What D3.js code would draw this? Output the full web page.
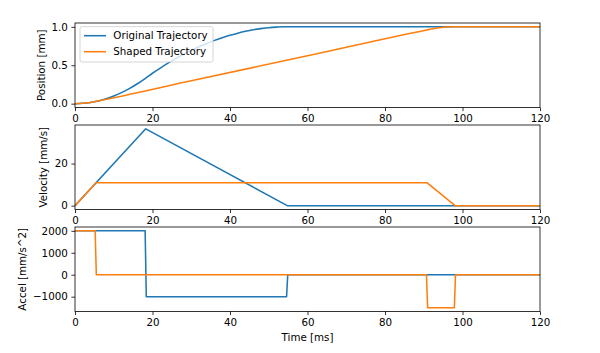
<!DOCTYPE html>
<html><head><meta charset="utf-8">
<script src="https://cdn.jsdelivr.net/npm/d3@7/dist/d3.min.js"></script>
<style>
body{margin:0;background:#fff}
text{font-family:"DejaVu Sans",sans-serif;fill:#000}
</style>
</head><body>
<svg id="chart" width="600" height="353"></svg>
<script>
// ---- data (time in ms) ----
const timeTicks = [0, 20, 40, 60, 80, 100, 120];
const seriesNames = ["Original Trajectory", "Shaped Trajectory"];
const seriesColors = ["#1f77b4", "#ff7f0e"];

const origPosition = [[0,0],[2,0.004],[4,0.016],[6,0.036],[8,0.064],[10,0.1],[12,0.144],[14,0.196],[16,0.256],[18,0.324],[20,0.396],[22,0.463],[24,0.527],[26,0.586],[28,0.642],[30,0.693],[32,0.741],[34,0.784],[36,0.824],[38,0.859],[40,0.891],[42,0.918],[44,0.942],[46,0.962],[48,0.977],[50,0.989],[52,0.996],[54,1.0],[55,1.0],[120,1.0]];
const shapedPosition = [[0,0],[2,0.004],[4,0.016],[5.45,0.030],[30,0.297],[60,0.624],[90.8,0.960],[92,0.972],[94,0.988],[96,0.997],[98.1,1.0],[120,1.0]];

const origVelocity = [[0,0],[18.26,36.5],[54.77,0],[120,0]];
const shapedVelocity = [[0,0],[5.45,10.9],[90.8,10.9],[98.1,0],[120,0]];

const origAccel = [[0,2000],[18.1,2000],[18.4,-1000],[54.6,-1000],[54.9,0],[120,0]];
const shapedAccel = [[0,2000],[5.2,2000],[5.5,0],[90.7,0],[91.0,-1500],[97.9,-1500],[98.2,0],[120,0]];

const posTicks = [0, 0.5, 1.0];
const posTickLabels = ["0.0", "0.5", "1.0"];
const velTicks = [0, 20];
const velTickLabels = ["0", "20"];
const accTicks = [-1000, 0, 1000, 2000];
const accTickLabels = ["\u22121000", "0", "1000", "2000"];

const panelDefs = [
  {label:"Position [mm]", series:[origPosition, shapedPosition], ticks:posTicks, tickLabels:posTickLabels, top:23, labelX:44.5, curve:d3.curveMonotoneX},
  {label:"Velocity [mm/s]", series:[origVelocity, shapedVelocity], ticks:velTicks, tickLabels:velTickLabels, top:125, labelX:47, curve:d3.curveLinear},
  {label:"Accel [mm/s^2]", series:[origAccel, shapedAccel], ticks:accTicks, tickLabels:accTickLabels, top:227, labelX:25.5, curve:d3.curveLinear}
];

// ---- layout ----
const left = 75, right = 540, ph = 84.5, fs = 10.3, tk = 3.6, lw = 1.55;
const svg = d3.select("#chart");
const x = d3.scaleLinear().domain([0, 120]).range([left, right]);

panelDefs.forEach((p, i) => {
  const all = p.series.flat().map(d => d[1]);
  const lo = d3.min(all), hi = d3.max(all), pad = (hi - lo) * 0.05;
  const y = d3.scaleLinear().domain([lo - pad, hi + pad]).range([p.top + ph, p.top]);
  const g = svg.append("g");
  const clipId = "clip" + i;
  g.append("clipPath").attr("id", clipId).append("rect")
    .attr("x", left).attr("y", p.top).attr("width", right - left).attr("height", ph);

  const line = d3.line().x(d => x(d[0])).y(d => y(d[1])).curve(p.curve);
  p.series.forEach((s, k) => {
    g.append("path").datum(s).attr("d", line)
      .attr("fill", "none").attr("stroke", seriesColors[k]).attr("stroke-width", lw)
      .attr("stroke-linejoin", "round").attr("clip-path", `url(#${clipId})`);
  });

  const xa = g.append("g").attr("transform", `translate(0,${p.top + ph})`)
    .call(d3.axisBottom(x).tickValues(timeTicks).tickFormat(d3.format("d")).tickSize(tk).tickSizeOuter(0).tickPadding(tk));
  const ya = g.append("g").attr("transform", `translate(${left},0)`)
    .call(d3.axisLeft(y).tickValues(p.ticks).tickFormat((d, j) => p.tickLabels[j]).tickSize(tk).tickSizeOuter(0).tickPadding(tk));
  [xa, ya].forEach(a => {
    a.select(".domain").remove();
    a.selectAll("line").attr("stroke", "#000").attr("stroke-width", 0.8);
    a.selectAll("text").attr("font-size", fs).attr("font-family", "DejaVu Sans").attr("fill", "#000");
  });

  g.append("rect").attr("x", left).attr("y", p.top).attr("width", right - left).attr("height", ph)
    .attr("fill", "none").attr("stroke", "#000").attr("stroke-width", 0.8);

  g.append("text").attr("transform", `translate(${p.labelX},${p.top + ph / 2}) rotate(-90)`)
    .attr("text-anchor", "middle").attr("font-size", fs).text(p.label);

  if (i === 0) {
    const lg = g.append("g");
    lg.append("rect").attr("x", 80).attr("y", 26.7).attr("width", 133).attr("height", 35.3)
      .attr("rx", 2).attr("fill", "#fff").attr("fill-opacity", 0.8).attr("stroke", "#cccccc").attr("stroke-width", 0.8);
    seriesNames.forEach((n, k) => {
      const yy = 35.7 + k * 16;
      lg.append("line").attr("x1", 84).attr("x2", 106).attr("y1", yy).attr("y2", yy)
        .attr("stroke", seriesColors[k]).attr("stroke-width", lw);
      lg.append("text").attr("x", 113.3).attr("y", yy + 3.7).attr("font-size", fs).text(n);
    });
  }
});

svg.append("text").attr("x", (left + right) / 2).attr("y", 340.5).attr("text-anchor", "middle")
  .attr("font-size", fs).text("Time [ms]");
</script>
</body></html>
